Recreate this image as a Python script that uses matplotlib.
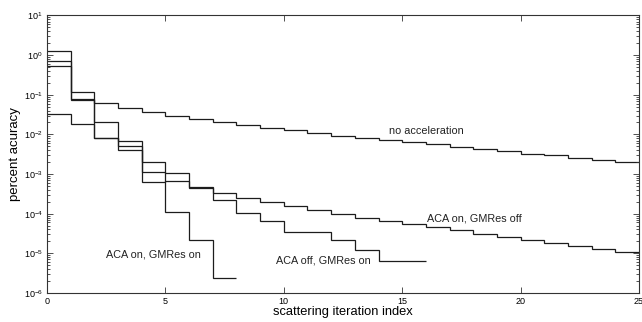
import numpy as np
import matplotlib
matplotlib.use("Agg")
import matplotlib.pyplot as plt
from matplotlib.ticker import LogLocator, NullFormatter

plt.rcParams['font.family'] = ['Liberation Sans', 'DejaVu Sans']
plt.rcParams['mathtext.fontset'] = 'custom'
plt.rcParams['mathtext.rm'] = 'Liberation Sans'

# error per scattering iteration (one value per interval [i, i+1])
no_accel = [1.27, 0.115, 0.0607, 0.047, 0.036, 0.030, 0.0243, 0.0208, 0.0172,
            0.0147, 0.0126, 0.0106, 0.0092, 0.0079, 0.0072, 0.0063, 0.0056,
            0.0049, 0.0043, 0.0038, 0.0033, 0.0030, 0.0026, 0.0023, 0.0020]
aca_on_gm_off = [0.72, 0.0766, 0.0079, 0.00507, 0.0011, 0.00104, 4.75e-4,
                 3.35e-4, 2.56e-4, 1.92e-4, 1.55e-4, 1.23e-4, 1.01e-4, 8.0e-5,
                 6.5e-5, 5.5e-5, 4.5e-5, 3.83e-5, 3.16e-5, 2.6e-5, 2.23e-5,
                 1.83e-5, 1.54e-5, 1.32e-5, 1.08e-5]
aca_off_gm_on = [0.032, 0.0179, 0.0079, 0.00402, 6.4e-4, 6.6e-4, 4.5e-4,
                 2.19e-4, 1.05e-4, 6.6e-5, 3.5e-5, 3.5e-5, 2.23e-5, 1.25e-5,
                 6.3e-6, 6.3e-6]
aca_on_gm_on = [0.53, 0.0722, 0.0201, 0.00689, 0.00203, 1.11e-4, 2.14e-5,
                2.45e-6]

series = [no_accel, aca_on_gm_off, aca_off_gm_on, aca_on_gm_on]
labels = ['no acceleration', 'ACA on, GMRes off', 'ACA off, GMRes on',
          'ACA on, GMRes on']
label_pos = [(14.45, 1.2e-2), (16.03, 7.6e-5), (9.67, 6.7e-6), (2.5, 9.5e-6)]

fig = plt.figure(figsize=(6.42, 3.22), dpi=100)
ax = fig.add_axes([0.0732, 0.0901, 0.9222, 0.8618])

for vals in series:
    edges = np.arange(len(vals) + 1)
    ax.stairs(vals, edges, baseline=None, color='#1c1c1c', lw=0.9)

for txt, (tx, ty) in zip(labels, label_pos):
    ax.text(tx, ty, txt, fontsize=7.8, ha='left', va='center', color='#222222')

ax.set_yscale('log')
ax.set_xlim(0, 25)
ax.set_ylim(1e-6, 1e1)
ax.set_xticks([0, 5, 10, 15, 20, 25])
ax.yaxis.set_major_locator(LogLocator(base=10, numticks=10))
ax.yaxis.set_minor_locator(LogLocator(base=10, subs=np.arange(2, 10), numticks=10))
ax.yaxis.set_minor_formatter(NullFormatter())
ax.tick_params(which='both', direction='in', top=True, right=True,
               labelsize=6.5, color='#333333', width=0.6)
ax.tick_params(which='major', length=4, pad=3)
ax.tick_params(which='minor', length=2)
for sp in ax.spines.values():
    sp.set_linewidth(0.8)
    sp.set_color('#333333')

ax.set_xlabel('scattering iteration index', fontsize=9.3, labelpad=0)
ax.set_ylabel('percent acuracy', fontsize=9.5, labelpad=2)

fig.savefig('out.png', dpi=100)
